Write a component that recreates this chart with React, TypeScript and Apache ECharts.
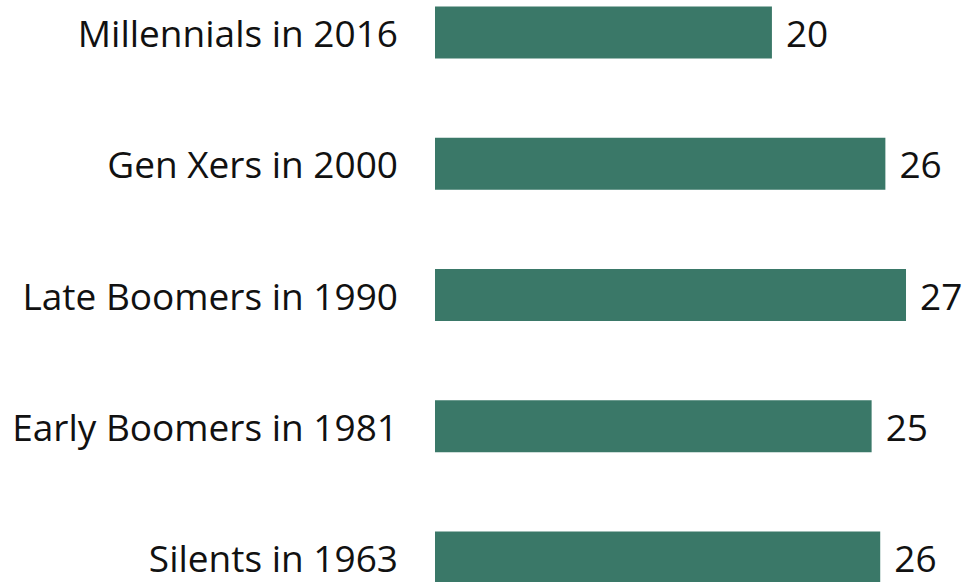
import React, { useEffect, useRef } from "react";
import * as echarts from "echarts";

const categories = [
  "Millennials in 2016",
  "Gen Xers in 2000",
  "Late Boomers in 1990",
  "Early Boomers in 1981",
  "Silents in 1963",
];
const values = [19.6, 26.2, 27.4, 25.4, 25.9];

const FONT = "'Open Sans', 'Noto Sans', sans-serif";

export default function App() {
  const ref = useRef<HTMLDivElement>(null);
  useEffect(() => {
    if (!ref.current) return;
    const chart = echarts.init(ref.current, null, { renderer: "svg" });
    chart.setOption({
      animation: false,
      backgroundColor: "#ffffff",
      grid: { left: 435, width: 515.7, top: 0, height: 656, containLabel: false },
      xAxis: {
        type: "value",
        min: 0,
        max: 30,
        show: false,
      },
      yAxis: {
        type: "category",
        data: categories,
        inverse: true,
        axisLine: { show: false },
        axisTick: { show: false },
        splitLine: { show: false },
        axisLabel: {
          margin: 37,
          color: "#111111",
          fontSize: 37,
          fontFamily: FONT,
        },
      },
      series: [
        {
          type: "bar",
          data: values,
          barWidth: 52,
          itemStyle: { color: "#3a7868" },
          label: {
            show: true,
            position: "right",
            distance: 14,
            color: "#111111",
            fontSize: 37,
            fontFamily: FONT,
            formatter: (p: any) => String(Math.round(p.value)),
          },
        },
      ],
    });
    return () => chart.dispose();
  }, []);
  return (
    <div style={{ position: "fixed", left: 0, top: 0, width: 969, height: 582, overflow: "hidden", background: "#fff" }}>
      <div
        ref={ref}
        style={{ position: "absolute", left: 0, top: -33, width: 969, height: 656 }}
      />
    </div>
  );
}
